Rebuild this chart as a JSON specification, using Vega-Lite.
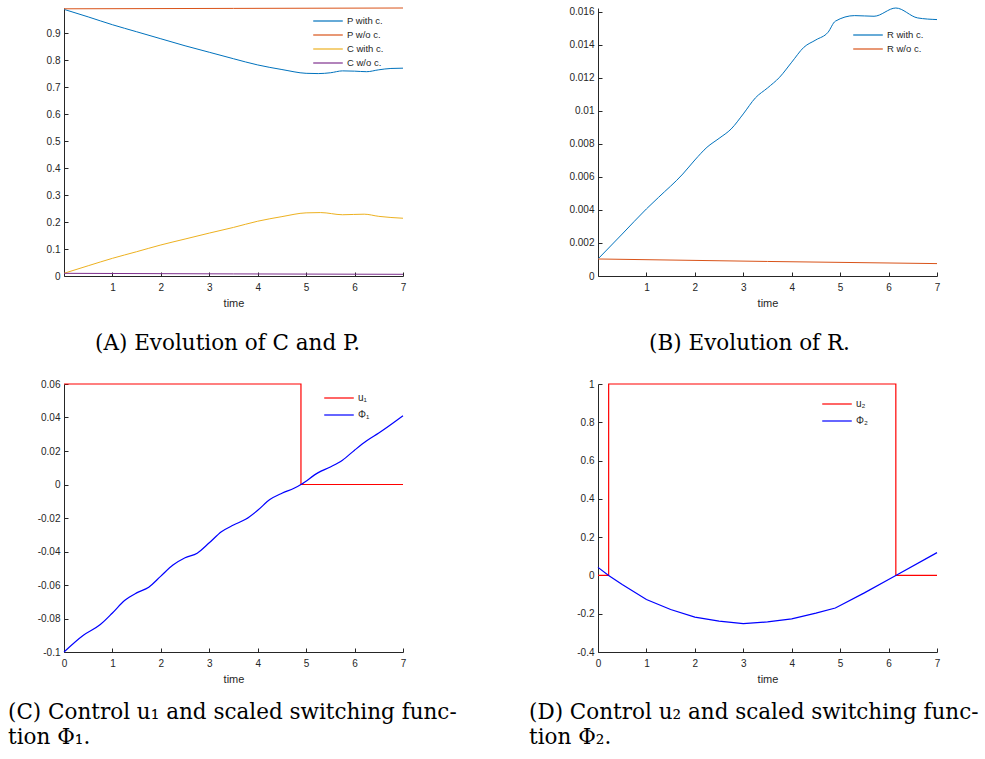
{
  "$schema": "https://vega.github.io/schema/vega-lite/v6.json",
  "padding": {"left": 8, "top": 6, "right": 0, "bottom": 0},
  "background": "white",
  "columns": 2,
  "spacing": {"row": 108, "column": 195},
  "bounds": "flush",
  "resolve": {"scale": {"color": "independent"}, "legend": {"color": "independent"}},
  "datasets": {
    "A": [
      {"t": 0, "v": 0.988, "s": "P with c."}, {"t": 0.5, "v": 0.96, "s": "P with c."}, {"t": 1, "v": 0.931, "s": "P with c."}, {"t": 1.5, "v": 0.905, "s": "P with c."}, {"t": 2, "v": 0.879, "s": "P with c."}, {"t": 2.5, "v": 0.853, "s": "P with c."}, {"t": 3, "v": 0.829, "s": "P with c."}, {"t": 3.5, "v": 0.805, "s": "P with c."}, {"t": 4, "v": 0.782, "s": "P with c."}, {"t": 4.5, "v": 0.765, "s": "P with c."}, {"t": 5, "v": 0.751, "s": "P with c."}, {"t": 5.25, "v": 0.75, "s": "P with c."}, {"t": 5.5, "v": 0.753, "s": "P with c."}, {"t": 5.75, "v": 0.76, "s": "P with c."}, {"t": 6, "v": 0.759, "s": "P with c."}, {"t": 6.25, "v": 0.757, "s": "P with c."}, {"t": 6.5, "v": 0.764, "s": "P with c."}, {"t": 6.75, "v": 0.769, "s": "P with c."}, {"t": 7, "v": 0.77, "s": "P with c."},
      {"t": 0, "v": 0.99, "s": "P w/o c."}, {"t": 3.5, "v": 0.9915, "s": "P w/o c."}, {"t": 7, "v": 0.993, "s": "P w/o c."},
      {"t": 0, "v": 0.01, "s": "C with c."}, {"t": 0.5, "v": 0.038, "s": "C with c."}, {"t": 1, "v": 0.0655, "s": "C with c."}, {"t": 1.5, "v": 0.09, "s": "C with c."}, {"t": 2, "v": 0.115, "s": "C with c."}, {"t": 2.5, "v": 0.137, "s": "C with c."}, {"t": 3, "v": 0.159, "s": "C with c."}, {"t": 3.5, "v": 0.18, "s": "C with c."}, {"t": 4, "v": 0.203, "s": "C with c."}, {"t": 4.5, "v": 0.22, "s": "C with c."}, {"t": 5, "v": 0.234, "s": "C with c."}, {"t": 5.3, "v": 0.235, "s": "C with c."}, {"t": 5.75, "v": 0.227, "s": "C with c."}, {"t": 6.2, "v": 0.229, "s": "C with c."}, {"t": 6.5, "v": 0.221, "s": "C with c."}, {"t": 7, "v": 0.214, "s": "C with c."},
      {"t": 0, "v": 0.0099, "s": "C w/o c."}, {"t": 3.5, "v": 0.0078, "s": "C w/o c."}, {"t": 7, "v": 0.0063, "s": "C w/o c."}
    ],
    "B": [
      {"t": 0, "v": 0.00103, "s": "R with c."}, {"t": 0.5, "v": 0.00254, "s": "R with c."}, {"t": 1, "v": 0.00406, "s": "R with c."}, {"t": 1.25, "v": 0.00476, "s": "R with c."}, {"t": 1.75, "v": 0.00617, "s": "R with c."}, {"t": 2, "v": 0.00702, "s": "R with c."}, {"t": 2.25, "v": 0.00779, "s": "R with c."}, {"t": 2.5, "v": 0.00833, "s": "R with c."}, {"t": 2.75, "v": 0.0089, "s": "R with c."}, {"t": 3, "v": 0.00981, "s": "R with c."}, {"t": 3.25, "v": 0.01078, "s": "R with c."}, {"t": 3.5, "v": 0.01138, "s": "R with c."}, {"t": 3.75, "v": 0.01203, "s": "R with c."}, {"t": 4, "v": 0.01294, "s": "R with c."}, {"t": 4.25, "v": 0.01384, "s": "R with c."}, {"t": 4.5, "v": 0.01429, "s": "R with c."}, {"t": 4.75, "v": 0.01475, "s": "R with c."}, {"t": 4.9, "v": 0.01542, "s": "R with c."}, {"t": 5.3, "v": 0.01576, "s": "R with c."}, {"t": 5.7, "v": 0.01572, "s": "R with c."}, {"t": 6.15, "v": 0.01622, "s": "R with c."}, {"t": 6.6, "v": 0.01562, "s": "R with c."}, {"t": 7, "v": 0.01552, "s": "R with c."},
      {"t": 0, "v": 0.00103, "s": "R w/o c."}, {"t": 3.5, "v": 0.00088, "s": "R w/o c."}, {"t": 7, "v": 0.00075, "s": "R w/o c."}
    ],
    "Cu": [
      {"t": 0, "v": 0.06, "s": "u₁"}, {"t": 4.893, "v": 0, "s": "u₁"}, {"t": 7, "v": 0, "s": "u₁"}
    ],
    "Cphi": [
      {"t": 0, "v": -0.1, "s": "Φ₁"}, {"t": 0.4, "v": -0.09, "s": "Φ₁"}, {"t": 0.75, "v": -0.0836, "s": "Φ₁"}, {"t": 1, "v": -0.0767, "s": "Φ₁"}, {"t": 1.25, "v": -0.0693, "s": "Φ₁"}, {"t": 1.5, "v": -0.0647, "s": "Φ₁"}, {"t": 1.75, "v": -0.0613, "s": "Φ₁"}, {"t": 2, "v": -0.0547, "s": "Φ₁"}, {"t": 2.25, "v": -0.0481, "s": "Φ₁"}, {"t": 2.5, "v": -0.0437, "s": "Φ₁"}, {"t": 2.75, "v": -0.041, "s": "Φ₁"}, {"t": 3, "v": -0.0348, "s": "Φ₁"}, {"t": 3.25, "v": -0.0282, "s": "Φ₁"}, {"t": 3.5, "v": -0.0242, "s": "Φ₁"}, {"t": 3.75, "v": -0.0208, "s": "Φ₁"}, {"t": 4, "v": -0.0154, "s": "Φ₁"}, {"t": 4.25, "v": -0.009, "s": "Φ₁"}, {"t": 4.5, "v": -0.0052, "s": "Φ₁"}, {"t": 4.75, "v": -0.0022, "s": "Φ₁"}, {"t": 4.893, "v": 0, "s": "Φ₁"}, {"t": 5.25, "v": 0.0071, "s": "Φ₁"}, {"t": 5.5, "v": 0.0105, "s": "Φ₁"}, {"t": 5.75, "v": 0.0145, "s": "Φ₁"}, {"t": 6, "v": 0.0205, "s": "Φ₁"}, {"t": 6.25, "v": 0.0261, "s": "Φ₁"}, {"t": 6.5, "v": 0.0307, "s": "Φ₁"}, {"t": 7, "v": 0.041, "s": "Φ₁"}
    ],
    "Du": [
      {"t": 0, "v": 0, "s": "u₂"}, {"t": 0.22, "v": 1, "s": "u₂"}, {"t": 6.15, "v": 0, "s": "u₂"}, {"t": 7, "v": 0, "s": "u₂"}
    ],
    "Dphi": [
      {"t": 0, "v": 0.042, "s": "Φ₂"}, {"t": 0.22, "v": 0, "s": "Φ₂"}, {"t": 0.5, "v": -0.047, "s": "Φ₂"}, {"t": 1, "v": -0.126, "s": "Φ₂"}, {"t": 1.5, "v": -0.178, "s": "Φ₂"}, {"t": 2, "v": -0.218, "s": "Φ₂"}, {"t": 2.5, "v": -0.239, "s": "Φ₂"}, {"t": 3, "v": -0.252, "s": "Φ₂"}, {"t": 3.5, "v": -0.243, "s": "Φ₂"}, {"t": 4, "v": -0.227, "s": "Φ₂"}, {"t": 4.5, "v": -0.197, "s": "Φ₂"}, {"t": 4.9, "v": -0.17, "s": "Φ₂"}, {"t": 5, "v": -0.157, "s": "Φ₂"}, {"t": 5.5, "v": -0.091, "s": "Φ₂"}, {"t": 6, "v": -0.021, "s": "Φ₂"}, {"t": 6.15, "v": 0, "s": "Φ₂"}, {"t": 7, "v": 0.119, "s": "Φ₂"}
    ]
  },
  "concat": [
    {
      "width": 339, "height": 268,
      "data": {"name": "A"},
      "title": {"text": "(A) Evolution of C and P.", "anchor": "middle", "dx": -6, "offset": 25},
      "mark": {"type": "line", "strokeWidth": 1, "interpolate": "monotone"},
      "encoding": {
        "x": {"field": "t", "type": "quantitative", "scale": {"domain": [0, 7], "nice": false}, "axis": {"values": [1, 2, 3, 4, 5, 6, 7], "title": "time"}},
        "y": {"field": "v", "type": "quantitative", "scale": {"domain": [0, 0.993], "nice": false}, "axis": {"values": [0, 0.1, 0.2, 0.3, 0.4, 0.5, 0.6, 0.7, 0.8, 0.9], "title": null, "labelExpr": "'' + datum.value"}},
        "color": {"field": "s", "type": "nominal", "sort": null,
          "scale": {"domain": ["P with c.", "P w/o c.", "C with c.", "C w/o c."], "range": ["#0072BD", "#D95319", "#EDB120", "#7E2F8E"]},
          "legend": {"orient": "none", "legendX": 255, "legendY": 4, "rowPadding": 0, "labelFontSize": 9.5}}
      }
    },
    {
      "width": 339, "height": 268,
      "data": {"name": "B"},
      "title": {"text": "(B) Evolution of R.", "anchor": "middle", "dx": -18, "offset": 25},
      "mark": {"type": "line", "strokeWidth": 1, "interpolate": "monotone"},
      "encoding": {
        "x": {"field": "t", "type": "quantitative", "scale": {"domain": [0, 7], "nice": false}, "axis": {"values": [1, 2, 3, 4, 5, 6, 7], "title": "time"}},
        "y": {"field": "v", "type": "quantitative", "scale": {"domain": [0, 0.01622], "nice": false}, "axis": {"values": [0, 0.002, 0.004, 0.006, 0.008, 0.01, 0.012, 0.014, 0.016], "title": null, "labelExpr": "'' + datum.value"}},
        "color": {"field": "s", "type": "nominal",
          "scale": {"domain": ["R with c.", "R w/o c."], "range": ["#0072BD", "#D95319"]},
          "legend": {"orient": "none", "legendX": 261, "legendY": 18, "rowPadding": 0, "labelFontSize": 9.5}}
      }
    },
    {
      "width": 339, "height": 268,
      "title": {"text": ["(C) Control u₁ and scaled switching func-", "tion Φ₁."], "anchor": "start", "dx": -56, "lineHeight": 25, "offset": 18},
      "encoding": {
        "x": {"field": "t", "type": "quantitative", "scale": {"domain": [0, 7], "nice": false}, "axis": {"values": [0, 1, 2, 3, 4, 5, 6, 7], "title": "time"}},
        "y": {"field": "v", "type": "quantitative", "scale": {"domain": [-0.1, 0.06], "nice": false, "zero": false}, "axis": {"values": [-0.1, -0.08, -0.06, -0.04, -0.02, 0, 0.02, 0.04, 0.06], "title": null, "labelExpr": "'' + datum.value"}},
        "color": {"field": "s", "type": "nominal",
          "scale": {"domain": ["u₁", "Φ₁"], "range": ["#FF0000", "#0000FF"]},
          "legend": {"orient": "none", "legendX": 266, "legendY": 5, "rowPadding": 3}}
      },
      "layer": [
        {"data": {"name": "Cu"}, "mark": {"type": "line", "strokeWidth": 1.2, "interpolate": "step-after"}},
        {"data": {"name": "Cphi"}, "mark": {"type": "line", "strokeWidth": 1.2, "interpolate": "monotone"}}
      ]
    },
    {
      "width": 339, "height": 268,
      "title": {"text": ["(D) Control u₂ and scaled switching func-", "tion Φ₂."], "anchor": "start", "dx": -69, "lineHeight": 25, "offset": 18},
      "encoding": {
        "x": {"field": "t", "type": "quantitative", "scale": {"domain": [0, 7], "nice": false}, "axis": {"values": [0, 1, 2, 3, 4, 5, 6, 7], "title": "time"}},
        "y": {"field": "v", "type": "quantitative", "scale": {"domain": [-0.4, 1], "nice": false, "zero": false}, "axis": {"values": [-0.4, -0.2, 0, 0.2, 0.4, 0.6, 0.8, 1], "title": null, "labelExpr": "'' + datum.value"}},
        "color": {"field": "s", "type": "nominal",
          "scale": {"domain": ["u₂", "Φ₂"], "range": ["#FF0000", "#0000FF"]},
          "legend": {"orient": "none", "legendX": 230, "legendY": 11, "rowPadding": 3}}
      },
      "layer": [
        {"data": {"name": "Du"}, "mark": {"type": "line", "strokeWidth": 1.2, "interpolate": "step-after"}},
        {"data": {"name": "Dphi"}, "mark": {"type": "line", "strokeWidth": 1.2}}
      ]
    }
  ],
  "config": {
    "view": {"stroke": null},
    "font": "Liberation Sans",
    "axis": {"grid": false, "domainColor": "#262626", "tickColor": "#262626", "labelColor": "#262626", "titleColor": "#262626", "labelFont": "Liberation Sans", "titleFont": "Liberation Sans", "labelFontSize": 10, "titleFontSize": 11, "titleFontWeight": "normal", "tickSize": -4, "labelPadding": 8, "titlePadding": 4, "domainWidth": 1, "labelFlush": false, "labelOverlap": false},
    "axisX": {"labelPadding": 10, "titlePadding": 5},
    "legend": {"title": null, "symbolType": "M-1.87,0L1.87,0", "symbolSize": 250, "symbolStrokeWidth": 1.2, "labelFontSize": 10, "labelFont": "Liberation Sans", "labelColor": "#262626", "padding": 0, "labelOffset": 10},
    "title": {"font": "DejaVu Serif", "fontSize": 21.5, "fontWeight": "normal", "orient": "bottom", "color": "black", "frame": "group"}
  }
}
